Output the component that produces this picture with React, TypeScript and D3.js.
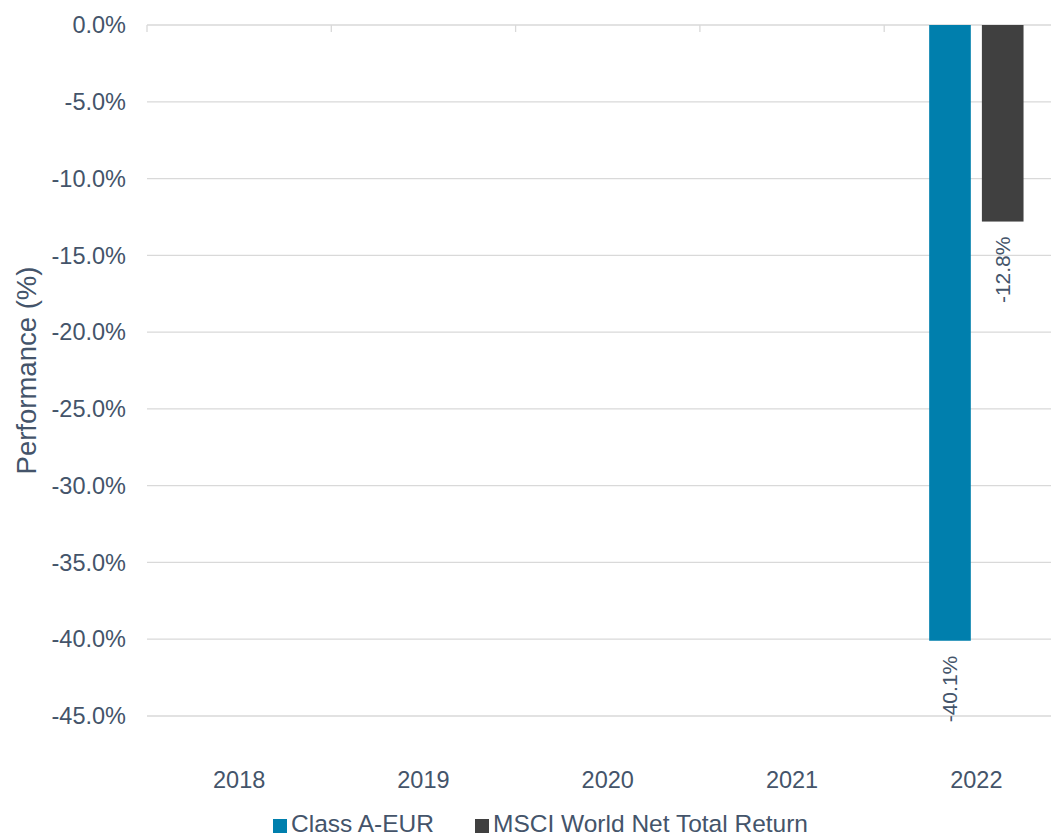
import React, { useEffect, useRef } from "react";
import * as d3 from "d3";

const years = ["2018", "2019", "2020", "2021", "2022"];
const seriesNames = ["Class A-EUR", "MSCI World Net Total Return"];
const classA: (number | null)[] = [null, null, null, null, -40.1];
const msci: (number | null)[] = [null, null, null, null, -12.8];
const yTicks = [0, -5, -10, -15, -20, -25, -30, -35, -40, -45];

const colors = ["#007fad", "#404040"];
const textColor = "#44546a";
const font = "'Liberation Sans', Arial, sans-serif";

const pct = (v: number) => d3.format(".1f")(v).replace("\u2212", "-") + "%";

const App: React.FC = () => {
  const svgRef = useRef<SVGSVGElement>(null);

  useEffect(() => {
    document.body.style.margin = "0";
    const width = 1051;
    const height = 838;
    const plot = { left: 147, right: 1068.5, top: 25, bottom: 716 };

    const svg = d3
      .select(svgRef.current)
      .attr("width", width)
      .attr("height", height)
      .style("display", "block")
      .style("font-family", font);
    svg.selectAll("*").remove();

    const y = d3.scaleLinear().domain([-45, 0]).range([plot.bottom, plot.top]);
    const xCat = d3
      .scaleBand<string>()
      .domain(years)
      .range([plot.left, plot.right]);
    const inset = xCat.bandwidth() * 0.244;
    const x1 = d3
      .scaleBand<string>()
      .domain(seriesNames)
      .range([0, xCat.bandwidth() - 2 * inset])
      .paddingInner(0.21);

    // Gridlines
    svg
      .append("g")
      .selectAll("line")
      .data(yTicks)
      .join("line")
      .attr("x1", plot.left)
      .attr("x2", plot.right)
      .attr("y1", (d) => y(d))
      .attr("y2", (d) => y(d))
      .attr("stroke", "#d9d9d9")
      .attr("stroke-width", 1.3);

    // Category tick marks on zero line
    const boundaries = [...years.map((d) => xCat(d)!), plot.right];
    svg
      .append("g")
      .selectAll("line")
      .data(boundaries)
      .join("line")
      .attr("x1", (d) => d)
      .attr("x2", (d) => d)
      .attr("y1", y(0))
      .attr("y2", y(0) + 7)
      .attr("stroke", "#d9d9d9")
      .attr("stroke-width", 1.3);

    // Y tick labels
    svg
      .append("g")
      .selectAll("text")
      .data(yTicks)
      .join("text")
      .attr("x", 126)
      .attr("y", (d) => y(d))
      .attr("dy", "0.35em")
      .attr("text-anchor", "end")
      .style("font-size", "23.5px")
      .attr("fill", textColor)
      .text((d) => pct(d));

    // X labels
    svg
      .append("g")
      .selectAll("text")
      .data(years)
      .join("text")
      .attr("x", (d) => xCat(d)! + xCat.bandwidth() / 2)
      .attr("y", 788)
      .attr("text-anchor", "middle")
      .style("font-size", "23.5px")
      .attr("fill", textColor)
      .text((d) => d);

    // Bars
    const allSeries = [classA, msci];
    allSeries.forEach((values, si) => {
      const name = seriesNames[si];
      const pts = years
        .map((yr, i) => ({ yr, v: values[i] }))
        .filter((d) => d.v !== null) as { yr: string; v: number }[];
      const g = svg.append("g");
      g.selectAll("rect")
        .data(pts)
        .join("rect")
        .attr("x", (d) => xCat(d.yr)! + inset + x1(name)!)
        .attr("y", y(0))
        .attr("width", x1.bandwidth())
        .attr("height", (d) => y(d.v) - y(0))
        .attr("fill", colors[si]);
      g.selectAll("text")
        .data(pts)
        .join("text")
        .attr("transform", (d) => {
          const cx = xCat(d.yr)! + inset + x1(name)! + x1.bandwidth() / 2;
          return `translate(${cx},${y(d.v) + 15}) rotate(-90)`;
        })
        .attr("dy", "0.35em")
        .attr("text-anchor", "end")
        .style("font-size", "21px")
        .attr("fill", textColor)
        .text((d) => pct(d.v));
    });

    // Y axis title
    svg
      .append("text")
      .attr("transform", `translate(36, ${(plot.top + plot.bottom) / 2}) rotate(-90)`)
      .attr("text-anchor", "middle")
      .style("font-size", "27.5px")
      .attr("fill", textColor)
      .text("Performance (%)");

    // Legend
    const legendX = [273, 475];
    seriesNames.forEach((name, i) => {
      svg
        .append("rect")
        .attr("x", legendX[i])
        .attr("y", 819)
        .attr("width", 14)
        .attr("height", 14)
        .attr("fill", colors[i]);
      svg
        .append("text")
        .attr("x", legendX[i] + 18)
        .attr("y", 832)
        .style("font-size", "24.5px")
        .attr("fill", textColor)
        .text(name);
    });
  }, []);

  return <svg ref={svgRef} />;
};

export default App;
